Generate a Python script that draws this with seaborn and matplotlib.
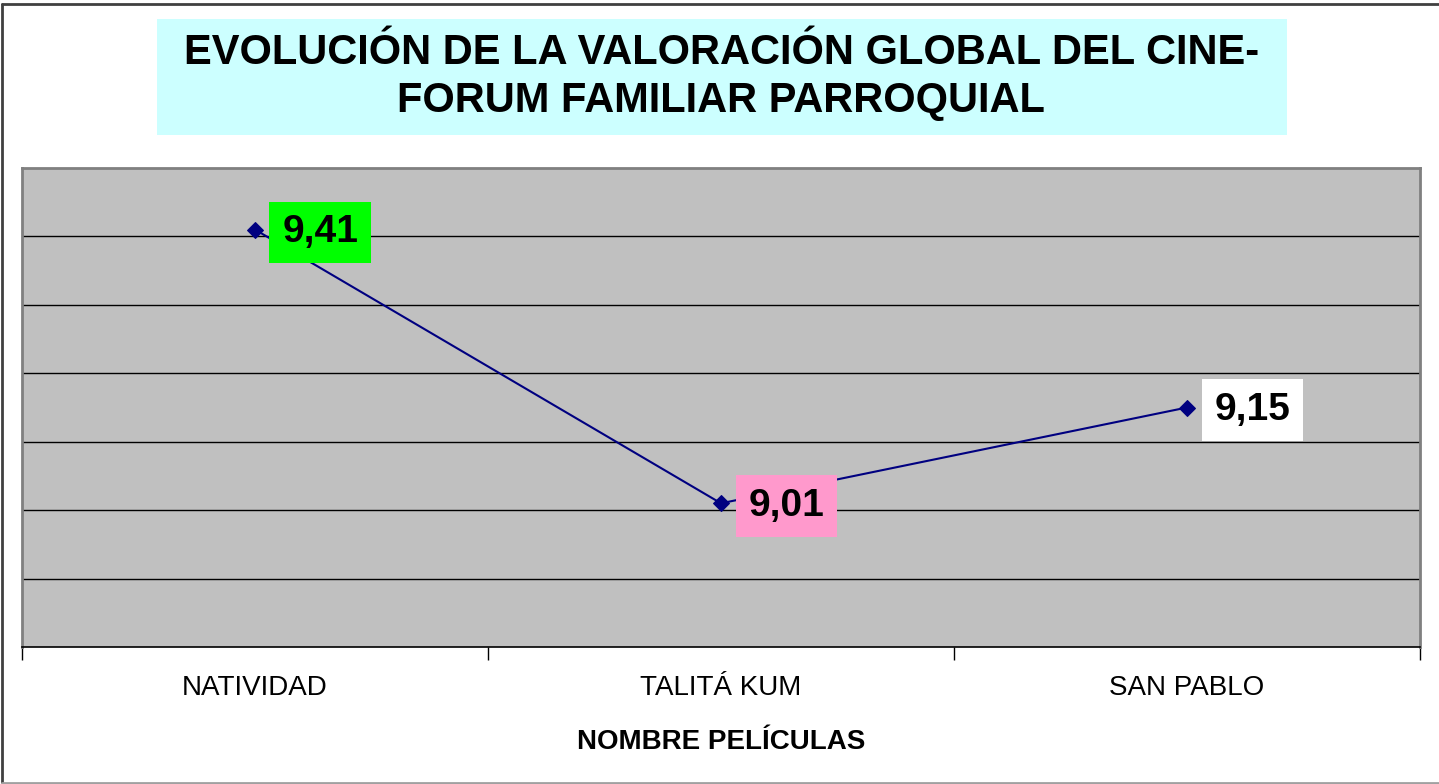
import matplotlib
matplotlib.use("Agg")
import matplotlib.pyplot as plt
import seaborn as sns
import pandas as pd
from matplotlib.patches import Rectangle
from matplotlib.lines import Line2D

peliculas = ["NATIVIDAD", "TALITÁ KUM", "SAN PABLO"]
valoracion = [9.41, 9.01, 9.15]
etiquetas = ["9,41", "9,01", "9,15"]
colores_etiqueta = ["#00FF00", "#FF99CC", "#FFFFFF"]

titulo_1 = "EVOLUCIÓN DE LA VALORACIÓN GLOBAL DEL CINE-"
titulo_2 = "FORUM FAMILIAR PARROQUIAL"
eje_x = "NOMBRE PELÍCULAS"

df = pd.DataFrame({"pelicula": peliculas, "valor": valoracion})

sns.set_style("white")
plt.rcParams["font.family"] = ["Liberation Sans", "DejaVu Sans"]
plt.rcParams["text.color"] = "black"
plt.rcParams["axes.labelcolor"] = "black"
plt.rcParams["xtick.color"] = "black"

fig = plt.figure(figsize=(14.39, 7.84), dpi=100)
ax = fig.add_axes([22 / 1439, 1 - 647 / 784, 1398 / 1439, 479 / 784])
ax.set_facecolor("#C0C0C0")

sns.lineplot(data=df, x="pelicula", y="valor", ax=ax, color="#000080",
             linewidth=1.5, marker="D", markersize=8.5, markeredgecolor="#000080",
             sort=False)

ax.set_xlim(-0.5, 2.5)
ax.set_ylim(8.8, 9.5)

# lineas de la cuadricula
for v in [8.9, 9.0, 9.1, 9.2, 9.3, 9.4]:
    ax.axhline(v, color="black", linewidth=1, zorder=1)

# etiquetas de datos
for i, (v, t, c) in enumerate(zip(valoracion, etiquetas, colores_etiqueta)):
    ax.annotate(t, (i, v), xytext=(47, -2), textcoords="offset points",
                ha="center", va="center", fontsize=28, fontweight="bold",
                bbox=dict(boxstyle="square,pad=0.33", fc=c, ec="none"),
                zorder=5)

# limites de categoria como marcas mayores, nombres en las menores
ax.set_xticks([-0.5, 0.5, 1.5, 2.5])
ax.set_xticklabels([])
ax.set_xticks([0, 1, 2], minor=True)
ax.set_xticklabels(peliculas, minor=True, fontsize=20)
ax.tick_params(axis="x", which="major", direction="out", length=9, width=1,
               color="black", bottom=True)
ax.tick_params(axis="x", which="minor", length=0, pad=20)
ax.set_yticks([])
ax.set_xlabel(eje_x, fontsize=20, fontweight="bold", labelpad=20)
ax.set_ylabel("")

for s in ["left", "top", "right"]:
    ax.spines[s].set_color("#808080")
    ax.spines[s].set_linewidth(2)
ax.spines["bottom"].set_color("black")
ax.spines["bottom"].set_linewidth(1.2)

# caja del titulo
fig.patches.append(Rectangle((157 / 1439, 1 - 135 / 784), 1130 / 1439, 116 / 784,
                             transform=fig.transFigure, fc="#CCFFFF", ec="none",
                             zorder=0))
fig.text(722 / 1439, 1 - 53 / 784, titulo_1, ha="center", va="center",
         fontsize=30, fontweight="bold")
fig.text(721 / 1439, 1 - 101 / 784, titulo_2, ha="center", va="center",
         fontsize=30, fontweight="bold")

# marco exterior
fig.lines.append(Line2D([1.5 / 1439, 1.5 / 1439], [1 - 782 / 784, 1 - 4 / 784],
                        transform=fig.transFigure, color="#404040", linewidth=2))
fig.lines.append(Line2D([1.5 / 1439, 1], [1 - 4 / 784, 1 - 4 / 784],
                        transform=fig.transFigure, color="#404040", linewidth=2))
fig.lines.append(Line2D([1.5 / 1439, 1], [1 - 782.5 / 784, 1 - 782.5 / 784],
                        transform=fig.transFigure, color="#A0A0A0", linewidth=2))

fig.savefig("out.png", dpi=100)
